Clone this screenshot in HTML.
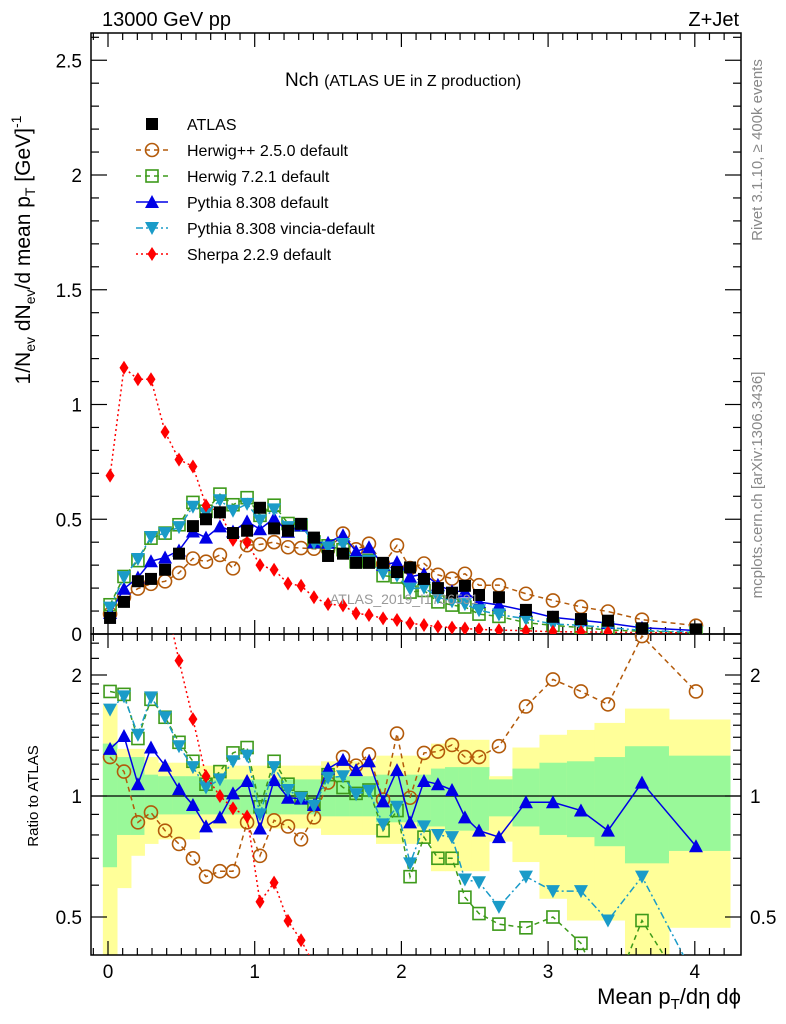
<!DOCTYPE html>
<html><head><meta charset="utf-8"><style>
html,body{margin:0;padding:0;background:#fff;width:786px;height:1024px;overflow:hidden;}
svg{display:block;font-family:"Liberation Sans",Arial,sans-serif;}
</style></head><body>
<svg id="chart" width="786" height="1024" viewBox="0 0 786 1024" xmlns="http://www.w3.org/2000/svg">
<defs>
<clipPath id="cm"><rect x="91" y="33" width="650" height="601"/></clipPath>
<clipPath id="cr"><rect x="91" y="634" width="650" height="321"/></clipPath>
</defs>
<g id="bands" clip-path="url(#cr)"></g>
<g id="axes"></g>
<g id="mainmarks" clip-path="url(#cm)"></g>
<g id="ratiomarks" clip-path="url(#cr)"></g>
<text x="102" y="26" font-size="20">13000 GeV pp</text>
<text x="739" y="26" font-size="20" text-anchor="end">Z+Jet</text>
<text x="285" y="86" font-size="19">Nch <tspan font-size="16">(ATLAS UE in Z production)</tspan></text>
<text x="330" y="604" font-size="14" fill="#999">ATLAS_2019_I1736531</text>
<text transform="translate(762,150) rotate(-90)" font-size="15" fill="#888" text-anchor="middle">Rivet 3.1.10, ≥ 400k events</text>
<text transform="translate(762,485) rotate(-90)" font-size="15" fill="#888" text-anchor="middle">mcplots.cern.ch [arXiv:1306.3436]</text>
<text transform="translate(30,250) rotate(-90)" font-size="21" text-anchor="middle">1/N<tspan font-size="14" dy="5">ev</tspan><tspan dy="-5"> dN</tspan><tspan font-size="14" dy="5">ev</tspan><tspan dy="-5">/d mean p</tspan><tspan font-size="14" dy="5">T</tspan><tspan dy="-5"> [GeV]</tspan><tspan font-size="14" dy="-9">-1</tspan></text>
<text transform="translate(38,796) rotate(-90)" font-size="15" text-anchor="middle">Ratio to ATLAS</text>
<text x="741" y="1004" font-size="22" text-anchor="end">Mean p<tspan font-size="15" dy="5">T</tspan><tspan dy="-5">/dη dϕ</tspan></text>
<g id="legend"></g>
</svg>
<script>
const xs=[0.014,0.109,0.204,0.293,0.389,0.484,0.579,0.668,0.763,0.852,0.948,1.036,1.132,1.227,1.316,1.404,1.5,1.602,1.691,1.779,1.875,1.97,2.059,2.154,2.249,2.345,2.433,2.529,2.665,2.849,3.033,3.224,3.408,3.64,4.008];
const atlas=[0.07,0.14,0.23,0.24,0.28,0.35,0.47,0.50,0.53,0.44,0.45,0.55,0.46,0.45,0.48,0.42,0.34,0.35,0.31,0.31,0.31,0.27,0.29,0.24,0.20,0.18,0.21,0.17,0.16,0.105,0.075,0.065,0.058,0.025,0.02];
const herwigppRatio=[1.25,1.15,0.86,0.91,0.82,0.76,0.70,0.63,0.65,0.65,0.86,0.71,0.87,0.84,0.78,0.885,1.08,1.25,1.19,1.27,0.98,1.43,0.99,1.28,1.29,1.34,1.25,1.25,1.33,1.67,1.95,1.82,1.69,2.50,1.82];
const herwig7Ratio=[1.82,1.79,1.39,1.74,1.57,1.36,1.22,1.07,1.15,1.28,1.32,0.94,1.22,1.07,0.99,0.955,1.13,1.05,1.015,1.035,0.82,0.92,0.63,0.79,0.70,0.70,0.56,0.51,0.48,0.47,0.50,0.43,0.30,0.49,0.30];
const pythiaRatio=[1.31,1.41,1.07,1.32,1.19,1.04,0.95,0.84,0.885,1.015,1.09,0.83,1.095,0.99,0.985,0.95,1.17,1.23,1.16,1.22,0.97,1.16,0.86,1.09,1.07,1.035,0.885,0.82,0.79,0.965,0.965,0.92,0.82,1.08,0.75];
const vinciaRatio=[1.64,1.77,1.42,1.76,1.57,1.33,1.18,1.05,1.10,1.22,1.26,0.90,1.18,1.035,0.99,0.945,1.11,1.12,1.01,1.03,0.85,0.94,0.68,0.84,0.80,0.79,0.62,0.61,0.53,0.63,0.58,0.58,0.49,0.63,0.35];
const sherpa=[0.69,1.16,1.11,1.11,0.88,0.76,0.73,0.56,0.53,0.41,0.40,0.30,0.28,0.22,0.21,0.16,0.13,0.125,0.09,0.083,0.068,0.061,0.047,0.039,0.032,0.028,0.024,0.02,0.017,0.014,0.01,0.009,0.008,0.006,0.005];
const greenLo=[0.665,0.80,0.80,0.88,0.90,0.90,0.90,0.90,0.90,0.90,0.90,0.90,0.90,0.90,0.90,0.90,0.89,0.89,0.89,0.89,0.86,0.86,0.86,0.84,0.84,0.82,0.82,0.82,0.89,0.84,0.80,0.79,0.75,0.68,0.73];
const greenHi=[1.35,1.25,1.25,1.13,1.12,1.12,1.12,1.10,1.10,1.10,1.10,1.10,1.10,1.10,1.10,1.10,1.12,1.12,1.12,1.12,1.13,1.13,1.13,1.13,1.17,1.18,1.18,1.18,1.10,1.17,1.21,1.22,1.25,1.33,1.26];
const yellowLo=[0.3,0.59,0.71,0.76,0.78,0.78,0.78,0.83,0.83,0.83,0.83,0.83,0.83,0.83,0.83,0.83,0.80,0.80,0.80,0.80,0.76,0.76,0.76,0.76,0.65,0.65,0.65,0.65,0.77,0.685,0.555,0.49,0.49,0.3,0.47];
const yellowHi=[1.69,1.31,1.31,1.25,1.21,1.21,1.21,1.19,1.19,1.19,1.19,1.19,1.19,1.19,1.19,1.19,1.22,1.22,1.22,1.22,1.26,1.26,1.26,1.25,1.35,1.38,1.38,1.38,1.12,1.32,1.42,1.46,1.52,1.65,1.55];
const xTicks=[0,1,2,3,4];
const mainYTicks=[0,0.5,1,1.5,2,2.5];
const mainYLabels=["0","0.5","1","1.5","2","2.5"];
const ratioYTicks=[0.5,1,2];
const ratioYLabels=["0.5","1","2"];

const NS="http://www.w3.org/2000/svg";
const X=v=>108+v*146.7;
const Ym=v=>634-v*229.5;
const Yr=v=>796-121*Math.log2(Math.max(v,0.05));
function mk(tag,attrs,parent){const e=document.createElementNS(NS,tag);for(const k in attrs)e.setAttribute(k,attrs[k]);parent.appendChild(e);return e;}
const gA=document.getElementById('axes'),gB=document.getElementById('bands'),gM=document.getElementById('mainmarks'),gR=document.getElementById('ratiomarks'),gL=document.getElementById('legend');

const edges=[-0.035];
for(let i=0;i<xs.length-1;i++)edges.push((xs[i]+xs[i+1])/2);
edges.push(4.24);
for(let i=0;i<xs.length;i++){
  const y=mk('rect',{x:X(edges[i]),width:X(edges[i+1])-X(edges[i])+0.5,y:Yr(yellowHi[i]),height:Yr(yellowLo[i])-Yr(yellowHi[i]),fill:'#ffff99'},gB);
  
  
  const g=mk('rect',{x:X(edges[i]),width:X(edges[i+1])-X(edges[i])+0.5,y:Yr(greenHi[i]),height:Yr(greenLo[i])-Yr(greenHi[i]),fill:'#99f999'},gB);
  
  
}
const one=mk('line',{x1:91,x2:741,y1:Yr(1),y2:Yr(1),stroke:'#000','stroke-width':1.3},gB);



[[33,601],[634,321]].forEach(([y,h])=>{const r=mk('rect',{x:91,y:y,width:650,height:h,fill:'none',stroke:'#000','stroke-width':1.5},gA);

});
for(let k=-1;k<=42;k++){const v=k/10;const px=X(v);if(px<91||px>741)continue;const maj=(k%10===0);const L=maj?14:7;
 [[634,-1],[33,1],[955,-1],[634,1]].forEach(([y0,d])=>{mk('line',{x1:px,x2:px,y1:y0,y2:y0+d*L,stroke:'#000','stroke-width':1.2},gA);});}
xTicks.forEach(v=>{const t=mk('text',{x:X(v),y:978,'font-size':19,'text-anchor':'middle'},gA);t.textContent=String(v);

});
for(let k=0;k<=26;k++){const v=k/10;const py=Ym(v);if(py<33)continue;const maj=(k%5===0);const L=maj?16:8;
 mk('line',{x1:91,x2:91+L,y1:py,y2:py,stroke:'#000','stroke-width':1.2},gA);mk('line',{x1:741,x2:741-L,y1:py,y2:py,stroke:'#000','stroke-width':1.2},gA);}
mainYTicks.forEach((v,i)=>{const t=mk('text',{x:82,y:Ym(v)+7,'font-size':19,'text-anchor':'end'},gA);t.textContent=mainYLabels[i];

});
const minors=[0.4,0.5,0.6,0.7,0.8,0.9,1,1.1,1.2,1.3,1.4,1.5,1.6,1.7,1.8,1.9,2,2.2,2.4];
minors.forEach(v=>{const py=Yr(v);if(py<634||py>955)return;const maj=ratioYTicks.includes(v);const L=maj?16:8;
 mk('line',{x1:91,x2:91+L,y1:py,y2:py,stroke:'#000','stroke-width':1.2},gA);mk('line',{x1:741,x2:741-L,y1:py,y2:py,stroke:'#000','stroke-width':1.2},gA);});
ratioYTicks.forEach((v,i)=>{[[82,'end'],[750,'start']].forEach(([x,a])=>{const t=mk('text',{x:x,y:Yr(v)+7,'font-size':19,'text-anchor':a},gA);t.textContent=ratioYLabels[i];

});});

function marker(g,type,x,y,c){
  if(type==='sq')return mk('rect',{x:x-6,y:y-6,width:12,height:12,fill:'#000'},g);
  if(type==='osq')return mk('rect',{x:x-6,y:y-6,width:12,height:12,fill:'none',stroke:c,'stroke-width':1.6},g);
  if(type==='oc')return mk('circle',{cx:x,cy:y,r:6.5,fill:'none',stroke:c,'stroke-width':1.6},g);
  if(type==='tu')return mk('polygon',{points:`${x},${y-7} ${x-7},${y+6} ${x+7},${y+6}`,fill:c},g);
  if(type==='td')return mk('polygon',{points:`${x},${y+7} ${x-7},${y-6} ${x+7},${y-6}`,fill:c},g);
  if(type==='dm')return mk('polygon',{points:`${x},${y-7} ${x-4.5},${y} ${x},${y+7} ${x+4.5},${y}`,fill:c},g);
}
const series=[
 {name:'herwigpp',ratio:herwigppRatio,c:'#b35a0a',m:'oc',dash:'5,4',label:'Herwig++ 2.5.0 default'},
 {name:'herwig7',ratio:herwig7Ratio,c:'#3d9a1a',m:'osq',dash:'5,4',label:'Herwig 7.2.1 default'},
 {name:'pythia',ratio:pythiaRatio,c:'#0000e6',m:'tu',dash:'',label:'Pythia 8.308 default'},
 {name:'vincia',ratio:vinciaRatio,c:'#1a9bc8',m:'td',dash:'7,3,2,3',label:'Pythia 8.308 vincia-default'},
];
function drawSeries(g,vals,yf,s,nm){
  const pts=vals.map((v,i)=>X(xs[i])+','+yf(v)).join(' ');
  const l=mk('polyline',{points:pts,fill:'none',stroke:s.c,'stroke-width':s.w||1.5,'stroke-dasharray':s.dash},g);
  
  
  vals.forEach((v,i)=>{const e=marker(g,s.m,X(xs[i]),yf(v),s.c);
  
  });
}
const sherpaS={c:'#ff0000',m:'dm',dash:'2,3',w:1.5};
series.forEach(s=>{drawSeries(gM,s.ratio.map((r,i)=>r*atlas[i]),Ym,s,s.name);});
drawSeries(gM,sherpa,Ym,sherpaS,'sherpa');
atlas.forEach((v,i)=>{const e=marker(gM,'sq',X(xs[i]),Ym(v));

});
series.forEach(s=>{drawSeries(gR,s.ratio,Yr,s,s.name+'-ratio');});
drawSeries(gR,sherpa.map((v,i)=>v/atlas[i]),Yr,sherpaS,'sherpa-ratio');
const leg=[{m:'sq',c:'#000',dash:null,label:'ATLAS'}].concat(series).concat([{m:'dm',c:'#ff0000',dash:'2,3',label:'Sherpa 2.2.9 default'}]);
leg.forEach((s,i)=>{const y=124+i*26;
  if(s.dash!==null){const l=mk('line',{x1:136,x2:168,y1:y,y2:y,stroke:s.c,'stroke-width':1.5,'stroke-dasharray':s.dash},gL);
  
  }
  const e=marker(gL,s.m,152,y,s.c);
  
  
  const t=mk('text',{x:187,y:y+6,'font-size':16},gL);t.textContent=s.label;
  
  
});
</script>
</body></html>
